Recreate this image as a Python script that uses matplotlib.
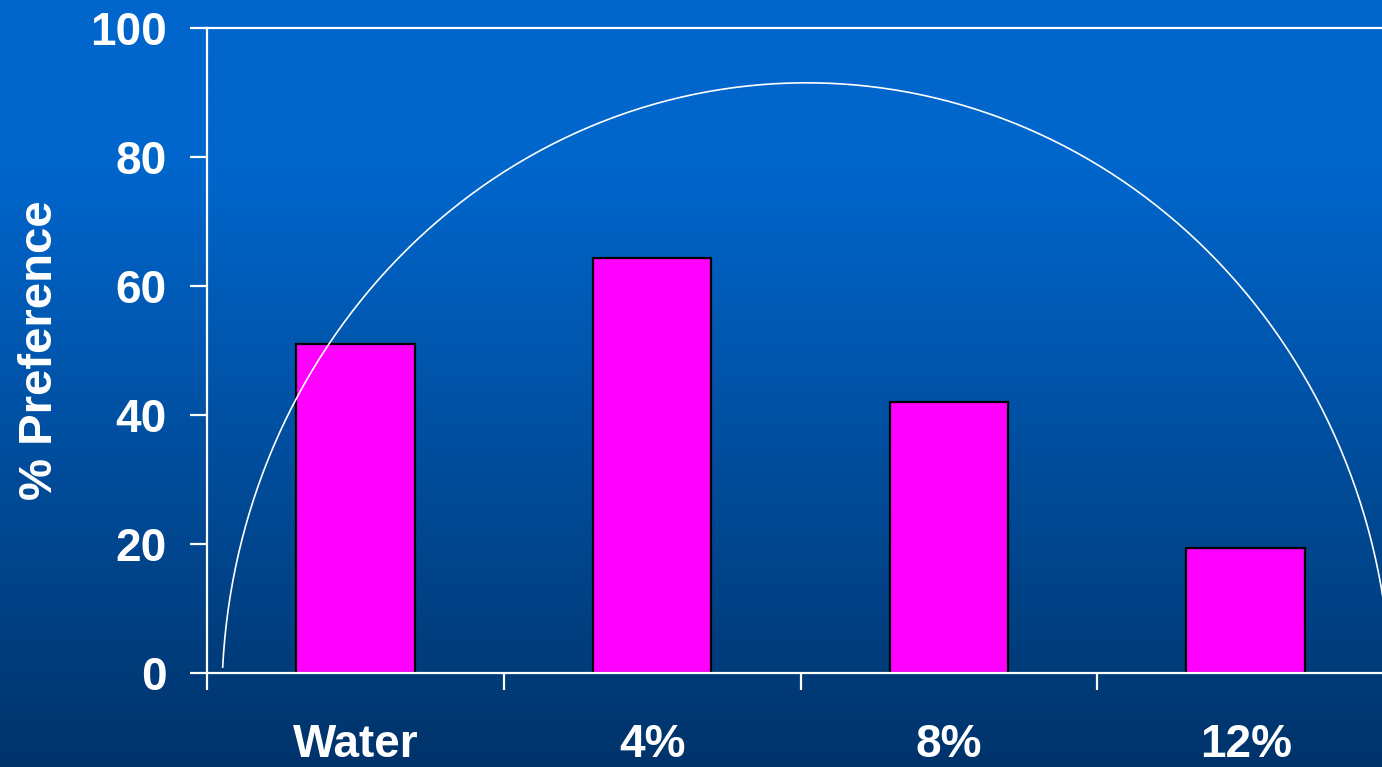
import numpy as np
import matplotlib
matplotlib.use('Agg')
import matplotlib.pyplot as plt
import matplotlib.colors as colors

# ------------ data ------------
categories = ['Water', '4%', '8%', '12%']
preference = [51.0, 64.3, 42.0, 19.4]
y_ticks = [0, 20, 40, 60, 80, 100]
y_label = '% Preference'

# decorative half-ellipse drawn over the bars (data units)
arc_center = (1.52, -4.2)
arc_radii = (1.97, 95.7)

plt.rcParams['font.family'] = ['Liberation Sans', 'DejaVu Sans']
plt.rcParams['font.weight'] = 'bold'

fig = plt.figure(figsize=(13.82, 7.67), dpi=100)

# ------------ background gradient ------------
bg = fig.add_axes([0, 0, 1, 1], zorder=-10)
rows = np.linspace(0, 1, 400)
top = np.array(colors.to_rgb('#0066CC'))
bottom = np.array(colors.to_rgb('#00336A'))
t = np.clip((rows - 0.22) / 0.78, 0, 1)[:, None]
grad = top * (1 - t) + bottom * t
bg.imshow(grad[:, None, :], aspect='auto', extent=(0, 1, 0, 1), origin='upper')
bg.set_axis_off()

# ------------ main axes ------------
ax = fig.add_axes([0.1498, 0.1226, 0.8589, 0.8409])
ax.set_facecolor('none')

x = np.arange(len(categories))
ax.bar(x, preference, width=0.4, color='#FF00FF', edgecolor='black', linewidth=1.6, zorder=2)

theta = np.linspace(0, np.pi * 0.983, 400)
ax.plot(arc_center[0] + arc_radii[0] * np.cos(theta),
        arc_center[1] + arc_radii[1] * np.sin(theta),
        color='white', linewidth=1.2, zorder=3)

ax.set_xlim(-0.5, len(categories) - 0.5)
ax.set_ylim(0, 100)

for side in ['left', 'bottom', 'top']:
    ax.spines[side].set_color('white')
    ax.spines[side].set_linewidth(1.6)
ax.spines['right'].set_visible(False)

# boundaries get tick marks, centres get the labels
ax.set_xticks(np.arange(len(categories) + 1) - 0.5)
ax.set_xticklabels([])
ax.set_xticks(x, minor=True)
ax.set_xticklabels(categories, minor=True)
ax.tick_params(axis='x', which='major', direction='out', length=12, width=1.6, color='white')
ax.tick_params(axis='x', which='minor', length=0, pad=36, labelsize=33, labelcolor='white')

ax.set_yticks(y_ticks)
ax.tick_params(axis='y', direction='out', length=12, width=1.6, color='white',
               pad=17, labelsize=33, labelcolor='white')

ax.set_ylabel(y_label, fontsize=34, color='white', fontweight='bold', va='center')
ax.yaxis.set_label_coords(-0.141, 0.5)

fig.savefig('out.png', dpi=100)
